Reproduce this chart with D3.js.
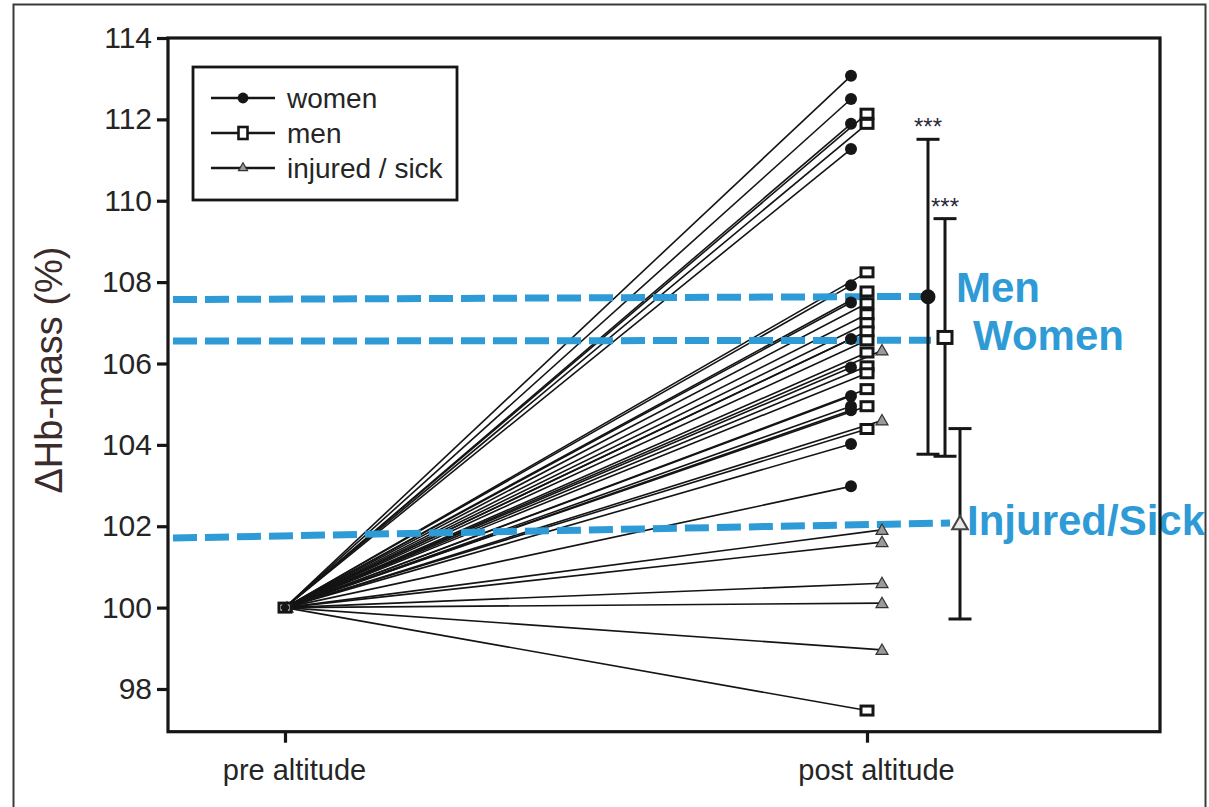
<!DOCTYPE html>
<html>
<head>
<meta charset="utf-8">
<script src="https://cdn.jsdelivr.net/npm/d3@7"></script>
<style>
  body { margin: 0; background: #fff; }
  svg { display: block; }
  text { font-family: "Liberation Sans", Arial, Helvetica, sans-serif; }
</style>
</head>
<body>
<svg id="chart" width="1209" height="807"></svg>
<script>
// ---- data -------------------------------------------------------------
const phases = ["pre altitude", "post altitude"];
const yTicks = [98, 100, 102, 104, 106, 108, 110, 112, 114];
const baseline = 100; // every athlete is normalised to 100 % before altitude

// individual Hb-mass after altitude (% of pre value)
const womenPost = [113.07, 112.5, 111.89, 111.27, 107.92, 107.5, 106.6, 105.9, 105.2, 104.95, 104.85, 104.02, 102.98];
const menPost = [112.14, 111.89, 108.24, 107.77, 107.48, 107.21, 106.99, 106.79, 106.57, 106.27, 105.93, 105.76, 105.37, 104.95, 104.39, 97.47];
const injuredPost = [106.32, 104.6, 101.91, 101.61, 100.6, 100.11, 98.96];

// group summaries: women, men, injured / sick
const groupKeys = ["women", "men", "injured"];
const legendLabels = ["women", "men", "injured / sick"];
const groupMean = [107.64, 106.64, 102.06];
const groupSD = [3.87, 2.92, 2.34];
const groupSig = ["***", "***", ""];

// highlighted group means
const calloutText = ["Men", "Women", "Injured/Sick"];
const calloutStart = [107.57, 106.55, 101.71];
const calloutEnd = [107.65, 106.57, 102.08];

// ---- layout -----------------------------------------------------------
const svg = d3.select("#chart");
const plot = { left: 168, right: 1160, top: 38, bottom: 731.7 };
const ink = "#161616";
const blue = "#2f9bd6";

const x = d3.scalePoint().domain(phases).range([285, 867]);
const y = d3.scaleLinear().domain([96.95, 114]).range([plot.bottom, plot.top]);

const postOffset = { women: -16, men: 0, injured: 15 };
const barOffset = { women: 61, men: 78, injured: 93 };

const subjects = [
  ...womenPost.map(v => ({ g: "women", v })),
  ...menPost.map(v => ({ g: "men", v })),
  ...injuredPost.map(v => ({ g: "injured", v }))
];

// outer figure border
svg.append("rect")
  .attr("x", 13.5).attr("y", 4.5).attr("width", 1192).attr("height", 830)
  .attr("fill", "none").attr("stroke", "#3a3a3a").attr("stroke-width", 2);

// ---- marker helpers ---------------------------------------------------
const triPath = d3.symbol().type(d3.symbolTriangle).size(62)();
function drawMarker(sel, g, cx, cy, scale = 1) {
  if (g === "women") {
    sel.append("circle").attr("cx", cx).attr("cy", cy).attr("r", 6 * scale).attr("fill", ink);
  } else if (g === "men") {
    const w = 12 * scale, h = 9 * scale;
    sel.append("rect").attr("x", cx - w / 2).attr("y", cy - h / 2)
      .attr("width", w).attr("height", h)
      .attr("fill", "#fff").attr("stroke", ink).attr("stroke-width", 3);
  } else {
    sel.append("path").attr("d", triPath)
      .attr("transform", `translate(${cx},${cy + 1}) scale(${scale})`)
      .attr("fill", "#9a9a9a").attr("stroke", "#333").attr("stroke-width", 1.2 / scale);
  }
}

// ---- individual trajectories -----------------------------------------
const gLines = svg.append("g");
gLines.selectAll("line")
  .data(subjects)
  .join("line")
  .attr("x1", x(phases[0]))
  .attr("y1", y(baseline))
  .attr("x2", d => x(phases[1]) + postOffset[d.g])
  .attr("y2", d => y(d.v))
  .attr("stroke", "#141414")
  .attr("stroke-width", 1.6);

// highlighted means (dashed callouts)
const gCall = svg.append("g");
const calloutEndX = [x(phases[1]) + barOffset.women + 10, x(phases[1]) + barOffset.men - 14, x(phases[1]) + barOffset.injured - 10];
calloutText.forEach((t, i) => {
  gCall.append("line")
    .attr("x1", plot.left + 5).attr("y1", y(calloutStart[i]))
    .attr("x2", calloutEndX[i]).attr("y2", y(calloutEnd[i]))
    .attr("stroke", blue).attr("stroke-width", 7)
    .attr("stroke-dasharray", "24,8");
});

// markers
const gMarks = svg.append("g");
subjects.forEach(d => drawMarker(gMarks, d.g, x(phases[1]) + postOffset[d.g], y(d.v)));
// pre-altitude points all coincide at 100 %
drawMarker(gMarks, "injured", x(phases[0]) + 2, y(baseline));
drawMarker(gMarks, "men", x(phases[0]), y(baseline));
drawMarker(gMarks, "women", x(phases[0]), y(baseline), 0.7);

// ---- group mean ± SD --------------------------------------------------
const gBars = svg.append("g");
groupKeys.forEach((g, i) => {
  const bx = x(phases[1]) + barOffset[g];
  const hi = y(groupMean[i] + groupSD[i]), lo = y(groupMean[i] - groupSD[i]);
  gBars.append("line").attr("x1", bx).attr("x2", bx).attr("y1", hi).attr("y2", lo)
    .attr("stroke", ink).attr("stroke-width", 3);
  [hi, lo].forEach(yy => gBars.append("line")
    .attr("x1", bx - 11.5).attr("x2", bx + 11.5).attr("y1", yy).attr("y2", yy)
    .attr("stroke", ink).attr("stroke-width", 3));
  if (groupSig[i]) {
    gBars.append("text").attr("x", bx).attr("y", hi - 4)
      .attr("text-anchor", "middle").attr("font-size", 24).attr("fill", "#2a2a3a")
      .text(groupSig[i]);
  }
});
drawMarker(gBars, "women", x(phases[1]) + barOffset.women, y(groupMean[0]), 1.25);
gBars.append("rect")
  .attr("x", x(phases[1]) + barOffset.men - 7).attr("y", y(groupMean[1]) - 6)
  .attr("width", 14).attr("height", 12)
  .attr("fill", "#fff").attr("stroke", ink).attr("stroke-width", 3);
gBars.append("path").attr("d", triPath)
  .attr("transform", `translate(${x(phases[1]) + barOffset.injured},${y(groupMean[2]) + 1}) scale(1.3)`)
  .attr("fill", "#e8e8e8").attr("stroke", "#444").attr("stroke-width", 1.6);

// callout labels
const calloutLabelX = [956, 973, 967];
const calloutBase = [302, 350, 535];
calloutText.forEach((t, i) => {
  svg.append("text").attr("x", calloutLabelX[i]).attr("y", calloutBase[i])
    .attr("font-size", 42).attr("font-weight", "bold").attr("fill", blue).text(t);
});

// ---- axes & frame ----------------------------------------------------
svg.append("rect")
  .attr("x", plot.left).attr("y", plot.top)
  .attr("width", plot.right - plot.left).attr("height", plot.bottom - plot.top)
  .attr("fill", "none").attr("stroke", ink).attr("stroke-width", 3.2);

const yAxis = svg.append("g")
  .attr("transform", `translate(${plot.left},0)`)
  .call(d3.axisLeft(y).tickValues(yTicks).tickSize(11).tickPadding(5));
yAxis.select(".domain").remove();
yAxis.selectAll(".tick line").attr("stroke", ink).attr("stroke-width", 3.2);
yAxis.selectAll(".tick text").attr("font-size", 30).attr("fill", "#252525")
  .attr("font-family", "Liberation Sans, Arial, sans-serif");

const xAxis = svg.append("g")
  .attr("transform", `translate(0,${plot.bottom})`)
  .call(d3.axisBottom(x).tickSize(11).tickPadding(17));
xAxis.select(".domain").remove();
xAxis.selectAll(".tick line").attr("stroke", ink).attr("stroke-width", 3.2);
xAxis.selectAll(".tick text").attr("font-size", 29).attr("fill", "#252525").attr("dx", 9)
  .attr("font-family", "Liberation Sans, Arial, sans-serif");

svg.append("text")
  .attr("transform", "translate(62,370) rotate(-90)")
  .attr("text-anchor", "middle")
  .attr("font-size", 38).attr("fill", "#3b2b2b")
  .text("ΔHb-mass (%)");

// ---- legend ----------------------------------------------------------
const legend = svg.append("g");
legend.append("rect").attr("x", 193).attr("y", 67).attr("width", 264).attr("height", 133)
  .attr("fill", "#fff").attr("stroke", ink).attr("stroke-width", 2.8);
groupKeys.forEach((g, i) => {
  const ly = 98 + i * 35;
  legend.append("line").attr("x1", 211).attr("x2", 275).attr("y1", ly).attr("y2", ly)
    .attr("stroke", ink).attr("stroke-width", 2.4);
  if (g === "men") {
    legend.append("rect").attr("x", 238.5).attr("y", ly - 6).attr("width", 9).attr("height", 12)
      .attr("fill", "#fff").attr("stroke", ink).attr("stroke-width", 2.6);
  } else if (g === "women") {
    drawMarker(legend, g, 243, ly, 0.9);
  } else {
    drawMarker(legend, g, 243, ly - 1, 0.75);
  }
  legend.append("text").attr("x", 287).attr("y", ly + 10)
    .attr("font-size", 28).attr("fill", "#252525").text(legendLabels[i]);
});
</script>
</body>
</html>
